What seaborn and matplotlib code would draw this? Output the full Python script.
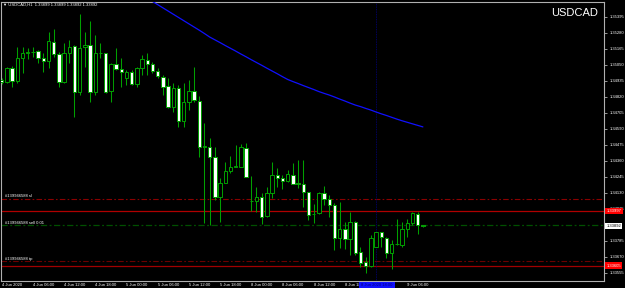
import matplotlib
matplotlib.use("Agg")
import matplotlib.pyplot as plt
import seaborn as sns
import pandas as pd
from matplotlib.patches import Rectangle

# ---------------- data (USDCAD, H1) ----------------
opens = [1.34940, 1.34928, 1.35024, 1.34935, 1.35096, 1.35136, 1.35139, 1.35148, 1.35096, 1.35079,
         1.35215, 1.35127, 1.34928, 1.35132, 1.35186, 1.34851, 1.35175, 1.35191, 1.34856, 1.35132,
         1.35132, 1.34861, 1.35053, 1.35017, 1.34952, 1.34999, 1.34911, 1.35024, 1.35084, 1.35055,
         1.35007, 1.34964, 1.34899, 1.34748, 1.34884, 1.34647, 1.34784, 1.34863, 1.34791, 1.34462,
         1.34460, 1.34388, 1.34096, 1.34201, 1.34288, 1.34318, 1.34316, 1.34449, 1.34072, 1.34072,
         1.34096, 1.33964, 1.34125, 1.34257, 1.34233, 1.34216, 1.34257, 1.34197, 1.34192, 1.34132,
         1.33976, 1.33981, 1.34125, 1.34082, 1.34041, 1.33802, 1.33866, 1.33794, 1.33921, 1.33705,
         1.33633, 1.33603, 1.33741, 1.33845, 1.33806, 1.33694, 1.33761, 1.33751, 1.33866, 1.33910,
         1.33976, 1.33897]
highs = [1.34954, 1.35035, 1.35043, 1.35179, 1.35179, 1.35168, 1.35179, 1.35156, 1.35132, 1.35287,
         1.35304, 1.35143, 1.35208, 1.35227, 1.35191, 1.35414, 1.35287, 1.35366, 1.35263, 1.35204,
         1.35134, 1.35060, 1.35172, 1.35096, 1.35012, 1.35012, 1.35035, 1.35120, 1.35132, 1.35071,
         1.35024, 1.34976, 1.34952, 1.34916, 1.34904, 1.34916, 1.34940, 1.35035, 1.34825, 1.34633,
         1.34521, 1.34460, 1.34237, 1.34352, 1.34393, 1.34472, 1.34480, 1.34485, 1.34252, 1.34168,
         1.34125, 1.34173, 1.34352, 1.34309, 1.34257, 1.34293, 1.34341, 1.34365, 1.34365, 1.34137,
         1.34048, 1.34137, 1.34178, 1.34113, 1.34053, 1.34065, 1.33917, 1.33993, 1.33925, 1.33741,
         1.33669, 1.33825, 1.33849, 1.33849, 1.33813, 1.33789, 1.33940, 1.33921, 1.33938, 1.33993,
         1.33989, 1.33900]
lows = [1.34911, 1.34920, 1.34892, 1.34916, 1.34988, 1.35089, 1.35107, 1.35060, 1.34999, 1.35024,
        1.35107, 1.34892, 1.34916, 1.35060, 1.34676, 1.34832, 1.35035, 1.34784, 1.34832, 1.35096,
        1.34844, 1.34784, 1.35012, 1.34892, 1.34904, 1.34904, 1.34892, 1.34976, 1.34976, 1.34988,
        1.34952, 1.34832, 1.34736, 1.34712, 1.34604, 1.34604, 1.34724, 1.34784, 1.34384, 1.33910,
        1.33897, 1.34077, 1.33921, 1.34197, 1.34269, 1.34312, 1.34312, 1.34240, 1.33998, 1.33993,
        1.33904, 1.33957, 1.34089, 1.34173, 1.34156, 1.34209, 1.34192, 1.34161, 1.34025, 1.33933,
        1.33914, 1.33976, 1.34041, 1.33953, 1.33718, 1.33730, 1.33725, 1.33682, 1.33682, 1.33597,
        1.33550, 1.33593, 1.33737, 1.33741, 1.33658, 1.33579, 1.33753, 1.33741, 1.33813, 1.33897,
        1.33833, 1.33880]
closes = [1.34925, 1.35028, 1.34935, 1.35096, 1.35136, 1.35139, 1.35143, 1.35100, 1.35079, 1.35220,
          1.35125, 1.34928, 1.35132, 1.35179, 1.34856, 1.35172, 1.35189, 1.34856, 1.35136, 1.35134,
          1.34856, 1.35053, 1.35019, 1.34995, 1.34995, 1.34911, 1.35024, 1.35089, 1.35055, 1.35007,
          1.34969, 1.34892, 1.34748, 1.34884, 1.34647, 1.34784, 1.34863, 1.34796, 1.34460, 1.34469,
          1.34388, 1.34096, 1.34201, 1.34288, 1.34316, 1.34322, 1.34456, 1.34245, 1.34068, 1.34096,
          1.33957, 1.34125, 1.34257, 1.34233, 1.34216, 1.34262, 1.34192, 1.34194, 1.34132, 1.33969,
          1.33974, 1.34125, 1.34082, 1.34041, 1.33802, 1.33866, 1.33794, 1.33921, 1.33698, 1.33626,
          1.33605, 1.33802, 1.33845, 1.33813, 1.33694, 1.33758, 1.33758, 1.33866, 1.33910, 1.33981,
          1.33897, 1.33892]

# moving average (blue), starting at bar 28
ma_first_bar = 28
ma_values = [1.35528, 1.35505, 1.35482, 1.35459, 1.35436, 1.35413, 1.35390, 1.35367, 1.35344, 1.35321,
             1.35298, 1.35274, 1.35249, 1.35229, 1.35209, 1.35188, 1.35168, 1.35148, 1.35127, 1.35107,
             1.35086, 1.35066, 1.35046, 1.35025, 1.35005, 1.34985, 1.34964, 1.34944, 1.34929, 1.34915,
             1.34900, 1.34886, 1.34872, 1.34857, 1.34844, 1.34832, 1.34818, 1.34803, 1.34789, 1.34774,
             1.34760, 1.34749, 1.34736, 1.34724, 1.34710, 1.34697, 1.34685, 1.34672, 1.34659, 1.34647,
             1.34636, 1.34625, 1.34614, 1.34603]

time_label_bars = [0, 6, 12, 18, 24, 30, 36, 42, 48, 54, 60, 66, 78]
time_labels = ["4 Jun 2020", "4 Jun 06:00", "4 Jun 12:00", "4 Jun 18:00", "5 Jun 00:00",
               "5 Jun 06:00", "5 Jun 12:00", "5 Jun 18:00", "8 Jun 00:00", "8 Jun 06:00",
               "8 Jun 12:00", "8 Jun 18:00", "9 Jun 06:00"]
price_ticks = [1.35395, 1.35280, 1.35165, 1.35050, 1.34935, 1.34820, 1.34705, 1.34590, 1.34475,
               1.34360, 1.34245, 1.34130, 1.34015, 1.33785, 1.33670, 1.33555]

order_sl = 1.34087
order_open = 1.33897
order_tp = 1.33638
level_upper = 1.33997
level_lower = 1.33605
current_price = 1.33892
cursor_bar = 72
header = "\u25bc USDCAD,H1  1.33899 1.33899 1.33892 1.33892"
order_id = "#139946588"

# ---------------- style ----------------
sns.set_theme(style="dark")
plt.rcParams["font.family"] = ["Liberation Sans", "DejaVu Sans"]
plt.rcParams["axes.facecolor"] = "black"
plt.rcParams["figure.facecolor"] = "black"

W, H = 625, 288
fig = plt.figure(figsize=(W / 100, H / 100), dpi=100)
ax = fig.add_axes([1 / W, 1 - 281 / H, 603 / W, 279 / H])
ax.set_facecolor("black")

GREEN = "#00a000"
df = pd.DataFrame({"bar": range(len(opens)), "open": opens, "high": highs,
                   "low": lows, "close": closes})

# wicks
ax.vlines(df["bar"], df["low"], df["high"], color=GREEN, lw=0.75, zorder=2)
# bodies
bull = df["close"] >= df["open"]
bottoms = df[["open", "close"]].min(axis=1)
heights = (df["close"] - df["open"]).abs().clip(lower=0.000012)
ax.bar(df["bar"][bull], heights[bull], bottom=bottoms[bull], width=0.62,
       color="black", edgecolor=GREEN, linewidth=0.7, zorder=3)
ax.bar(df["bar"][~bull], heights[~bull], bottom=bottoms[~bull], width=0.62,
       color="white", edgecolor=GREEN, linewidth=0.7, zorder=3)

# moving average
ma_df = pd.DataFrame({"bar": range(ma_first_bar, ma_first_bar + len(ma_values)),
                      "ma": ma_values})
sns.lineplot(data=ma_df, x="bar", y="ma", ax=ax, color="#1010ff", lw=0.9, zorder=4)

# horizontal levels
dashdot = (0, (5, 2, 1.5, 2))
ax.axhline(order_sl, color="#8a0000", lw=0.8, ls=dashdot, zorder=1)
ax.axhline(order_open, color="#005000", lw=0.9, ls=dashdot, zorder=1)
ax.axhline(order_tp, color="#6a0000", lw=0.8, ls=dashdot, zorder=1)
ax.axhline(level_upper, color="#b00000", lw=0.9, zorder=1)
ax.axhline(level_lower, color="#a00000", lw=0.9, zorder=1)
ax.axvline(cursor_bar, color="#000080", lw=0.6, ls=(0, (1, 1)), zorder=1)

ytr = ax.get_yaxis_transform()
small = 3.0
for price, txt in [(order_sl, order_id + " sl"), (order_open, order_id + " sell 0.01"),
                   (order_tp, order_id + " tp")]:
    ax.text(4 / 603, price + 0.00003, txt, transform=ytr, color="white", fontsize=small,
            va="bottom", ha="left", zorder=5)

ax.set_xlim(-0.135, 115.83)
ax.set_ylim(1.33495, 1.35501)

# axes & ticks
for s in ax.spines.values():
    s.set_color("#b0b0b0")
    s.set_linewidth(0.8)
ax.yaxis.tick_right()
ax.set_yticks(price_ticks)
ax.set_yticklabels([f"{p:.5f}" for p in price_ticks])
ax.set_xticks(time_label_bars)
ax.set_xticklabels(time_labels, ha="left")
ax.tick_params(axis="y", colors="#b0b0b0", labelcolor="white", labelsize=small,
               length=2.5, width=0.6, pad=1.5)
ax.tick_params(axis="x", colors="#b0b0b0", labelcolor="white", labelsize=small,
               length=1.2, width=0.6, pad=0.2)
ax.set_xlabel("")
ax.set_ylabel("")
ax.grid(False)

# price boxes on the right scale
for price, fc, tc in [(level_upper, "#ff0000", "white"), (current_price, "white", "black"),
                      (level_lower, "#ff0000", "white")]:
    ax.text(1.004, price, f"{price:.5f}", transform=ytr, color=tc, fontsize=small,
            va="center", ha="left", clip_on=False, zorder=6,
            bbox=dict(boxstyle="square,pad=0.3", fc=fc, ec="none"))

# cursor time box on the time scale
fig.patches.append(Rectangle((359 / W, 0), 36 / W, 6.5 / H, transform=fig.transFigure,
                             fc="#1010ff", ec="none", zorder=10))
fig.text(377 / W, 3.2 / H, "8 Jun 2020 18:00", color="#00007a", fontsize=small,
         ha="center", va="center", zorder=11)

# titles
fig.text(3 / W, 1 - 5 / H, header, color="white", fontsize=small, ha="left", va="center")
fig.text(598 / W, 1 - 13 / H, "USDCAD", color="white", fontsize=8, ha="right", va="center")

fig.savefig("out.png", dpi=100, facecolor="black")
